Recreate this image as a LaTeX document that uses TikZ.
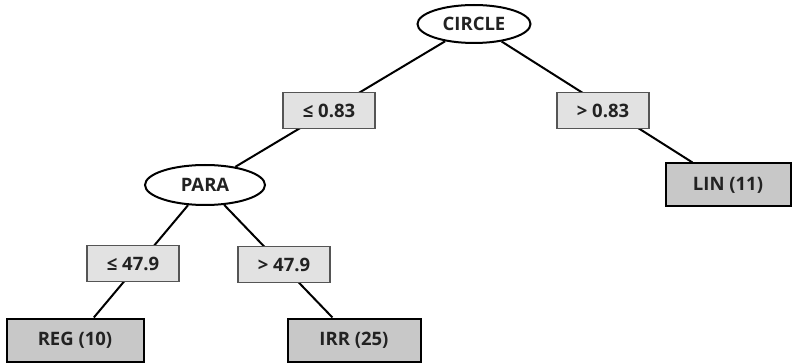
\documentclass[tikz,border=0pt]{standalone}
\usepackage{fontspec}
\setmainfont{Open Sans}
\usetikzlibrary{shapes.geometric}
\definecolor{lblfill}{HTML}{E2E2E2}
\definecolor{lbldraw}{HTML}{555555}
\definecolor{leaffill}{HTML}{C8C8C8}
\definecolor{txt}{HTML}{222222}
\tikzset{
  every node/.style={font=\bfseries\fontsize{18.5}{20}\selectfont, text=txt, inner sep=0pt},
  attr/.style={ellipse, draw=black, line width=2pt, fill=white},
  cond/.style={rectangle, draw=lbldraw, line width=1.5pt, fill=lblfill, minimum width=92pt, minimum height=36pt},
  leaf/.style={rectangle, draw=black, line width=2pt, fill=leaffill, minimum height=43pt},
  edge/.style={draw=black, line width=2pt}
}
\begin{document}
\begin{tikzpicture}[x=1pt,y=-1pt]
\useasboundingbox (0,0) rectangle (792,363);
\node[attr, minimum width=113pt, minimum height=38pt] (circle) at (474,24) {CIRCLE};
\node[attr, minimum width=120pt, minimum height=40pt] (para) at (205,185) {PARA};
\node[leaf, minimum width=125pt] (lin) at (728,185) {LIN (11)};
\node[leaf, minimum width=137pt] (reg) at (75,340) {REG (10)};
\node[leaf, minimum width=133pt] (irr) at (354,340) {IRR (25)};
\path[edge] (circle) -- (para);
\path[edge] (circle) -- (lin);
\path[edge] (para) -- (reg);
\path[edge] (para) -- (irr);
\node[cond] (c1) at (329,110.5) {≤ 0.83};
\node[cond] (c2) at (603,110.5) {> 0.83};
\node[cond] (c3) at (133,263.5) {≤ 47.9};
\node[cond] (c4) at (284,264.5) {> 47.9};
\end{tikzpicture}
\end{document}
